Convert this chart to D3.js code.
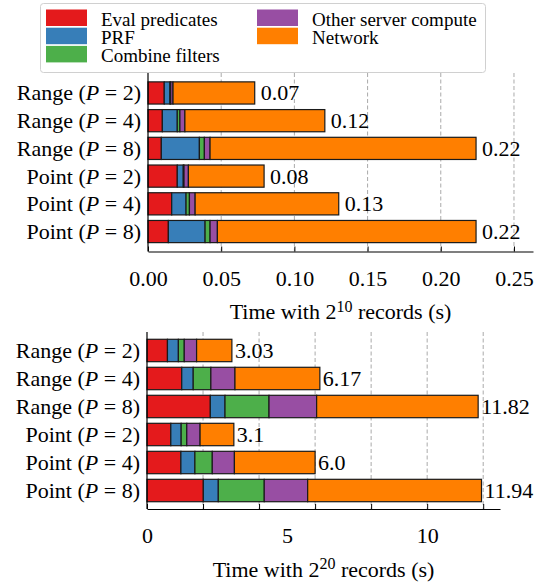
<!DOCTYPE html>
<html>
<head>
<meta charset="utf-8">
<script src="https://cdn.jsdelivr.net/npm/d3@7"></script>
<style>
    body { margin: 0; background: #fff; }
    svg text { font-family: "Liberation Serif", "Times New Roman", Times, serif; fill: #000; }
</style>
</head>
<body>
<svg id="chart" width="544" height="587"></svg>
<script>
// Categories
const queryKind = ["Range", "Range", "Range", "Point", "Point", "Point"];
const pValues = [2, 4, 8, 2, 4, 8];

const seriesNames = ["Eval predicates", "PRF", "Combine filters", "Other server compute", "Network"];
const seriesColors = ["#e41a1c", "#377eb8", "#4daf4a", "#984ea3", "#ff7f00"];

// 2^10 records (seconds)
const evalSmall = [0.0111, 0.0098, 0.0091, 0.0200, 0.0162, 0.0139];
const prfSmall = [0.0039, 0.0102, 0.0260, 0.0041, 0.0098, 0.0251];
const combineSmall = [0.0005, 0.0018, 0.0034, 0.0005, 0.0023, 0.0034];
const otherSmall = [0.0016, 0.0034, 0.0039, 0.0030, 0.0039, 0.0050];
const networkSmall = [0.0558, 0.0956, 0.1817, 0.0517, 0.0981, 0.1767];
const totalLabelsSmall = ["0.07", "0.12", "0.22", "0.08", "0.13", "0.22"];
const ticksSmall = [0, 0.05, 0.10, 0.15, 0.20, 0.25];

// 2^20 records (seconds)
const evalLarge = [0.73, 1.24, 2.26, 0.85, 1.21, 2.01];
const prfLarge = [0.39, 0.41, 0.525, 0.37, 0.50, 0.535];
const combineLarge = [0.21, 0.63, 1.57, 0.20, 0.62, 1.64];
const otherLarge = [0.44, 0.86, 1.70, 0.475, 0.79, 1.55];
const networkLarge = [1.26, 3.03, 5.765, 1.205, 2.88, 6.205];
const totalLabelsLarge = ["3.03", "6.17", "11.82", "3.1", "6.0", "11.94"];
const gridTicksLarge = [0, 2, 4, 6, 8, 10, 12];
const labelTicksLarge = [0, 5, 10];

const svg = d3.select("#chart");

function drawPanel(opts) {
    const {series, labels, xMax, left, right, top, bottom, gridTicks, labelTicks, tickFormat, labelGap, exponent} = opts;
    const cats = queryKind.map((k, i) => i);

    const x = d3.scaleLinear().domain([0, xMax]).range([left, right]);
    const y = d3.scaleBand().domain(cats).range([top, bottom]).paddingInner(0).paddingOuter(opts.outer);
    const barH = y.bandwidth() * 0.8;

    const g = svg.append("g");

    // Grid lines
    g.selectAll(".grid")
        .data(gridTicks.filter(t => t > 0))
        .enter().append("line")
        .attr("x1", d => x(d)).attr("x2", d => x(d))
        .attr("y1", top).attr("y2", bottom)
        .attr("stroke", "#aaa")
        .attr("stroke-width", 1)
        .attr("stroke-dasharray", "4,2.5");

    // Stacked bars
    const rows = cats.map(i => {
        let acc = 0;
        return series.map((s, j) => {
            const seg = {row: i, key: j, x0: acc, x1: acc + s[i]};
            acc += s[i];
            return seg;
        });
    });
    rows.forEach(segs => {
        g.selectAll(null)
            .data(segs)
            .enter().append("rect")
            .attr("x", d => x(d.x0))
            .attr("y", d => y(d.row) + y.bandwidth() * 0.1)
            .attr("width", d => x(d.x1) - x(d.x0))
            .attr("height", barH)
            .attr("fill", d => seriesColors[d.key])
            .attr("stroke", "#1a1a1a")
            .attr("stroke-width", 1.2);
    });

    // Totals
    g.selectAll(".total")
        .data(rows)
        .enter().append("text")
        .attr("x", d => x(d[d.length - 1].x1) + labelGap)
        .attr("y", (d, i) => y(i) + y.bandwidth() / 2 + 7.5)
        .attr("font-size", "22px")
        .text((d, i) => labels[i]);

    // X axis: tick marks
    const axisTicks = d3.axisBottom(x).tickValues(gridTicks).tickSize(-5).tickSizeOuter(0).tickFormat("");
    const ax = g.append("g").attr("transform", `translate(0,${bottom})`).call(axisTicks);
    ax.select(".domain").attr("stroke", "#000").attr("stroke-width", 1.2);
    ax.selectAll(".tick line").attr("stroke", "#000");

    // X axis: labels
    const axisLabels = d3.axisBottom(x).tickValues(labelTicks).tickSize(0).tickPadding(18.5).tickFormat(tickFormat);
    const al = g.append("g").attr("transform", `translate(0,${bottom})`).call(axisLabels);
    al.select(".domain").remove();
    al.attr("font-family", null).attr("font-size", null);
    al.selectAll("text").attr("font-size", "22px");

    // Left spine
    g.append("line")
        .attr("x1", left).attr("x2", left)
        .attr("y1", top).attr("y2", bottom)
        .attr("stroke", "#000").attr("stroke-width", 1.2);

    // Category labels
    cats.forEach(i => {
        const t = g.append("text")
            .attr("x", left - 7)
            .attr("y", y(i) + y.bandwidth() / 2 + 7.5)
            .attr("text-anchor", "end")
            .attr("font-size", "22px");
        t.append("tspan").text(`${queryKind[i]} (`);
        t.append("tspan").attr("font-style", "italic").text("P");
        t.append("tspan").text(` = ${pValues[i]})`);
    });

    // Axis title
    const title = g.append("text")
        .attr("x", (left + right) / 2)
        .attr("y", bottom + 67.5)
        .attr("text-anchor", "middle")
        .attr("font-size", "22px");
    title.append("tspan").text("Time with 2");
    title.append("tspan").attr("font-size", "16px").attr("dy", -7.3).text(exponent);
    title.append("tspan").attr("dy", 7.3).text(" records (s)");
}

drawPanel({
    series: [evalSmall, prfSmall, combineSmall, otherSmall, networkSmall],
    labels: totalLabelsSmall,
    xMax: 0.263,
    left: 148, right: 533, top: 73, bottom: 251.5,
    outer: 0.22,
    gridTicks: ticksSmall,
    labelTicks: ticksSmall,
    tickFormat: d3.format(".2f"),
    labelGap: 6,
    exponent: "10"
});

drawPanel({
    series: [evalLarge, prfLarge, combineLarge, otherLarge, networkLarge],
    labels: totalLabelsLarge,
    xMax: 12.6,
    left: 147, right: 500, top: 332, bottom: 509,
    outer: 0.16,
    gridTicks: gridTicksLarge,
    labelTicks: labelTicksLarge,
    tickFormat: d3.format("d"),
    labelGap: 3,
    exponent: "20"
});

// Legend
const legend = svg.append("g");
legend.append("rect")
    .attr("x", 40.5).attr("y", 3.5)
    .attr("width", 445).attr("height", 69)
    .attr("rx", 3)
    .attr("fill", "#fff")
    .attr("fill-opacity", 0.8)
    .attr("stroke", "#d0d0d0")
    .attr("stroke-width", 1);

const legendCols = [{hx: 46, tx: 101}, {hx: 257, tx: 312}];
seriesNames.forEach((name, i) => {
    const col = legendCols[i < 3 ? 0 : 1];
    const r = i < 3 ? i : i - 3;
    legend.append("rect")
        .attr("x", col.hx).attr("y", 9.5 + r * 18.2)
        .attr("width", 41).attr("height", 16.5)
        .attr("fill", seriesColors[i]);
    legend.append("text")
        .attr("x", col.tx).attr("y", 26 + r * 18.2)
        .attr("font-size", "19px")
        .text(name);
});
</script>
</body>
</html>
